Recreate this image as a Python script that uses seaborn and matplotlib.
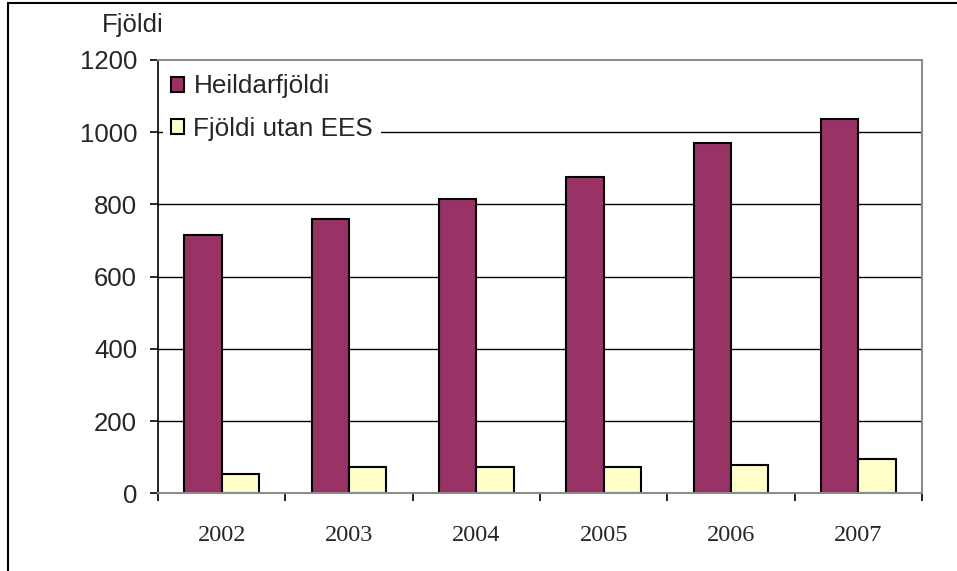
import matplotlib
matplotlib.use("Agg")
import matplotlib.pyplot as plt
from matplotlib.lines import Line2D
import numpy as np
import pandas as pd
import seaborn as sns

# data
years = ["2002", "2003", "2004", "2005", "2006", "2007"]
heildarfjoldi = [715, 759, 814, 876, 969, 1036]
utan_ees = [54, 72, 72, 72, 77, 94]
series_names = ["Heildarfjöldi", "Fjöldi utan EES"]
y_ticks = [0, 200, 400, 600, 800, 1000, 1200]

df = pd.DataFrame({
    "ar": years * 2,
    "fjoldi": heildarfjoldi + utan_ees,
    "rod": [series_names[0]] * len(years) + [series_names[1]] * len(years),
})

sns.set_style("white")
plt.rcParams["font.family"] = ["Liberation Sans", "DejaVu Sans"]

fig = plt.figure(figsize=(9.57, 5.71), dpi=100)
ax = fig.add_axes([158 / 957, 1 - 493.3 / 571, 764 / 957, 433.3 / 571])

sns.barplot(data=df, x="ar", y="fjoldi", hue="rod", order=years,
            hue_order=series_names, palette=["#993366", "#FFFFCC"],
            edgecolor="black", linewidth=1.5, width=0.584, saturation=1,
            ax=ax, zorder=3)

ax.set_xlim(-0.5, len(years) - 0.5)
ax.set_ylim(0, 1200)
ax.set_yticks(y_ticks)
ax.set_yticklabels([str(t) for t in y_ticks])
ax.set_xlabel("")
ax.set_ylabel("")

# gridlines
for t in y_ticks[1:-1]:
    ax.axhline(t, color="black", lw=1, zorder=1)

# spines
for side in ["top", "right", "bottom"]:
    ax.spines[side].set_visible(True)
    ax.spines[side].set_color("#8c8c8c")
    ax.spines[side].set_linewidth(1.5)
ax.spines["left"].set_color("black")
ax.spines["left"].set_linewidth(1.2)
ax.spines["bottom"].set_zorder(4)

# ticks: x ticks at category boundaries, labels at centres
ax.set_xticks(np.arange(len(years)))
ax.set_xticklabels(years, fontfamily="Liberation Serif", fontsize=17.5)
ax.set_xticks(np.arange(-0.5, len(years)), minor=True)
ax.tick_params(axis="x", which="major", length=0, pad=23)
ax.tick_params(axis="x", which="minor", length=6, width=1.2, color="black",
               direction="out", bottom=True)
ax.tick_params(axis="y", length=6, width=1.2, color="black", direction="out",
               left=True, pad=9, labelsize=18.5)

leg = ax.legend(loc="upper left", bbox_to_anchor=(0.007, 0.985),
                borderaxespad=0, frameon=True, fontsize=18.8,
                handlelength=0.5, handleheight=0.5, handletextpad=0.35,
                labelspacing=0.72, borderpad=0.3, fancybox=False)
leg.get_frame().set_edgecolor("none")
leg.get_frame().set_facecolor("white")
leg.get_frame().set_alpha(1)
leg.set_zorder(5)

fig.text(102 / 957, 1 - 32 / 571, "Fjöldi", fontsize=18.5, va="baseline",
         ha="left")

# outer frame of the chart object
fig.add_artist(Line2D([8 / 957, 1.0], [1 - 3 / 571, 1 - 3 / 571],
                      transform=fig.transFigure, color="black", lw=1.5))
fig.add_artist(Line2D([8 / 957, 8 / 957], [0.0, 1 - 3 / 571],
                      transform=fig.transFigure, color="black", lw=1.5))

fig.savefig("out.png", dpi=100)
